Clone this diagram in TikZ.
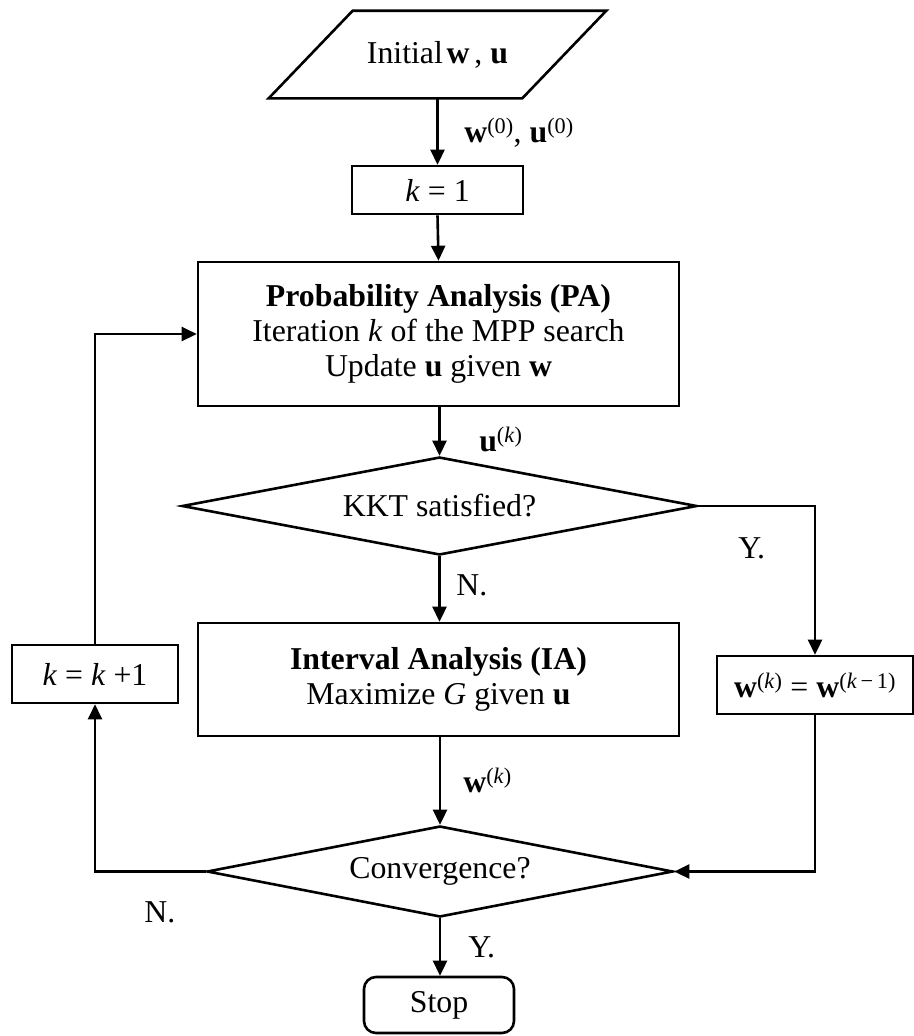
\documentclass[tikz,border=0pt]{standalone}
\usepackage{fontspec}
\setmainfont{Liberation Serif}
\usetikzlibrary{arrows.meta,shapes.geometric}
\begin{document}
\begin{tikzpicture}[x=1bp,y=-1bp, line width=2.6bp,
  every node/.style={font=\fontsize{31.8bp}{35bp}\selectfont, inner sep=0pt},
  box/.style={draw, rectangle, align=center},
  dia/.style={draw, diamond, aspect=5},
  arr/.style={-{Triangle[length=15bp,width=14bp]}},
  lbl/.style={anchor=base west}]
\useasboundingbox (0,0) rectangle (914,1036);

% start (parallelogram)
\node (init) at (437.5,54.5) [minimum width=335bp, minimum height=85bp] {Initial\hspace{0.12em}\textbf{w}\hspace{0.15em}, \textbf{u}};
\draw ([xshift=84bp]init.north west) -- (init.north east) -- ([xshift=-84bp]init.south east) -- (init.south west) -- cycle;

\node[box, minimum width=171bp, minimum height=48bp] (k1) at (437.5,190) {\textit{k} = 1};
\node[box, minimum width=481bp, minimum height=144bp] (pa) at (438.5,334)
  {\textbf{Probability Analysis (PA)}\\ Iteration \textit{k} of the MPP search\\ Update \textbf{u} given \textbf{w}};
\node[dia, minimum width=515bp, minimum height=98bp] (kkt) at (439.5,506) {KKT satisfied?};
\node[box, minimum width=481bp, minimum height=113bp] (ia) at (438.5,679.5)
  {\textbf{Interval Analysis (IA)}\\ Maximize \textit{G} given \textbf{u}};
\node[box, minimum width=166bp, minimum height=58bp] (kb) at (95,674) {\textit{k} = \textit{k} +1};
\node[box, minimum width=196bp, minimum height=58bp] (rb) at (815,685)
  {\textbf{w}\textsuperscript{(\textit{k})} = \textbf{w}\textsuperscript{(\textit{k}\,−\,1)}};
\node[dia, minimum width=466bp, minimum height=91bp] (conv) at (440,871.5) {Convergence?};
\node[box, rounded corners=12bp, minimum width=150bp, minimum height=56bp] (stop) at (439,1005) {Stop};

% connectors
\draw[arr] (init.south) -- (k1.north);
\draw[arr] (k1.south) -- (pa.north);
\draw[arr] (pa.south -| kkt.north) -- (kkt.north);
\draw[arr] (kkt.south) -- (kkt.south |- ia.north);
\draw[arr] (kkt.east) -| (rb.north);
\draw[arr] (ia.south -| conv.north) -- (conv.north);
\draw[arr] (rb.south) |- (conv.east);
\draw[arr] (conv.west) -| (kb.south);
\draw[arr] (kb.north) |- (pa.west);
\draw[arr] (conv.south) -- (conv.south |- stop.north);

% labels
\node[lbl] (l1) at (463,142) {\textbf{w}\textsuperscript{(0)}, \textbf{u}\textsuperscript{(0)}};
\node[lbl] (l2) at (478,451) {\textbf{u}\textsuperscript{(\textit{k})}};
\node[lbl] (l3) at (455,595) {N.};
\node[lbl] (l4) at (737,558) {Y.};
\node[lbl] (l5) at (462,792) {\textbf{w}\textsuperscript{(\textit{k})}};
\node[lbl] (l6) at (143,922) {N.};
\node[lbl] (l7) at (467,957) {Y.};
\end{tikzpicture}
\end{document}
